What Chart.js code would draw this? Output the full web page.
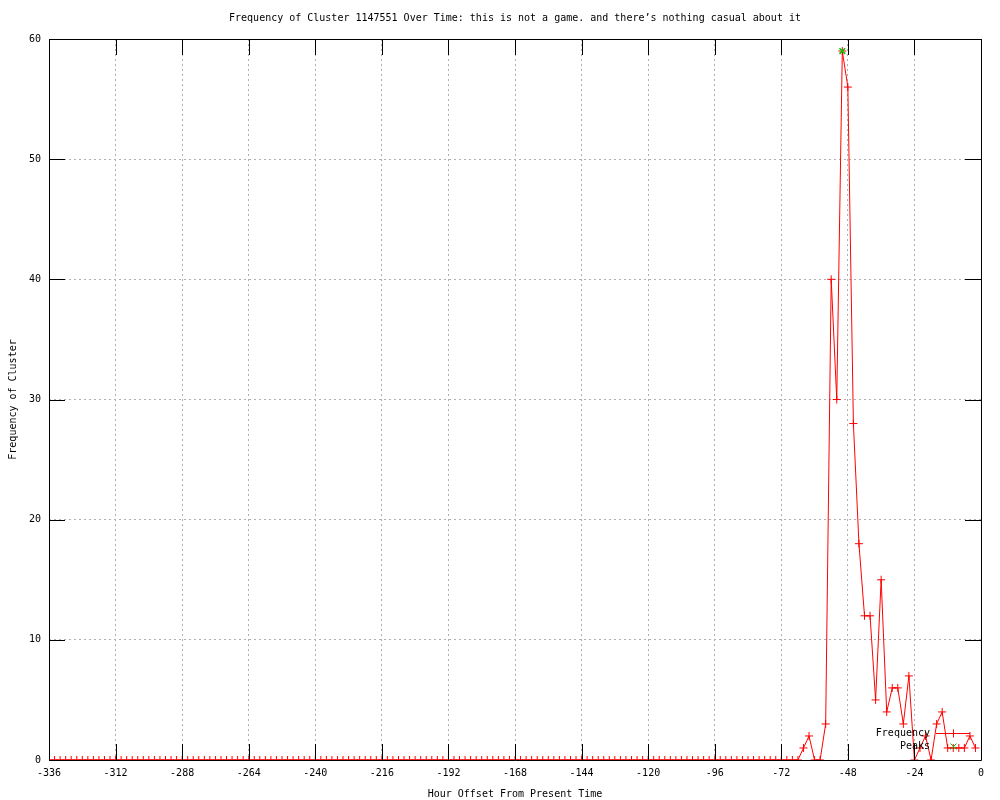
<!DOCTYPE html>
<html>
<head>
<meta charset="utf-8">
<script src="https://cdn.jsdelivr.net/npm/chart.js@4"></script>
<style>
  html, body { margin: 0; padding: 0; background: #fff; }
  #wrap { width: 1000px; height: 800px; }
</style>
</head>
<body>
<div id="wrap"><canvas id="chart"></canvas></div>
<script>
// one sample every 2 hours, from -336 up to -2
const firstHour = -336;
const hourStep = 2;

const frequency = [
  0, 0, 0, 0, 0, 0, 0, 0, 0, 0, 0, 0,
  0, 0, 0, 0, 0, 0, 0, 0, 0, 0, 0, 0,
  0, 0, 0, 0, 0, 0, 0, 0, 0, 0, 0, 0,
  0, 0, 0, 0, 0, 0, 0, 0, 0, 0, 0, 0,
  0, 0, 0, 0, 0, 0, 0, 0, 0, 0, 0, 0,
  0, 0, 0, 0, 0, 0, 0, 0, 0, 0, 0, 0,
  0, 0, 0, 0, 0, 0, 0, 0, 0, 0, 0, 0,
  0, 0, 0, 0, 0, 0, 0, 0, 0, 0, 0, 0,
  0, 0, 0, 0, 0, 0, 0, 0, 0, 0, 0, 0,
  0, 0, 0, 0, 0, 0, 0, 0, 0, 0, 0, 0,
  0, 0, 0, 0, 0, 0, 0, 0, 0, 0, 0, 0,
  0, 0, 0, 0, 1, 2, 0, 0, 3, 40, 30, 59,
  56, 28, 18, 12, 12, 5, 15, 4, 6, 6, 3, 7,
  0, 1, 2, 0, 3, 4, 1, 1, 1, 1, 2, 1
];

const peakHours = [-50];
const peakValues = [59];

const xTicks = { min: -336, max: 0, step: 24 };
const yTicks = { min: 0, max: 60, step: 10 };

const titleText = 'Frequency of Cluster 1147551 Over Time: this is not a game. and there\u2019s nothing casual about it';

const freqPoints = frequency.map((v, i) => ({ x: firstHour + i * hourStep, y: v }));
const peakPoints = peakHours.map((h, i) => ({ x: h, y: peakValues[i] }));

const FONT = { family: 'DejaVu Sans Mono', size: 10 };
const TICK_LEN = 16;
const RED = '#ff0000';
const GREEN = '#00c000';

// gnuplot style frame, inward ticks on all four sides, title and key
const frameTicks = {
  id: 'frameTicks',
  afterDraw(chart) {
    const { ctx, chartArea: a, scales: { x, y } } = chart;
    ctx.save();
    ctx.strokeStyle = '#000';
    ctx.lineWidth = 1;
    ctx.setLineDash([]);
    ctx.beginPath();
    x.ticks.forEach(t => {
      const px = Math.round(x.getPixelForValue(t.value)) + 0.5;
      ctx.moveTo(px, a.bottom); ctx.lineTo(px, a.bottom - TICK_LEN);
      ctx.moveTo(px, a.top); ctx.lineTo(px, a.top + TICK_LEN);
    });
    y.ticks.forEach(t => {
      const py = Math.round(y.getPixelForValue(t.value)) + 0.5;
      ctx.moveTo(a.left, py); ctx.lineTo(a.left + TICK_LEN, py);
      ctx.moveTo(a.right, py); ctx.lineTo(a.right - TICK_LEN, py);
    });
    ctx.rect(Math.round(a.left) + 0.5, Math.round(a.top) + 0.5,
             Math.round(a.right - a.left), Math.round(a.bottom - a.top));
    ctx.stroke();

    ctx.font = FONT.size + 'px ' + FONT.family;
    ctx.fillStyle = '#000';

    // title, centred over the plot area
    ctx.textAlign = 'center';
    ctx.textBaseline = 'middle';
    ctx.fillText(titleText, (a.left + a.right) / 2, 18);

    // key
    ctx.textAlign = 'right';
    const ky1 = Math.round(a.bottom - 27) + 0.5, ky2 = Math.round(a.bottom - 14) + 0.5;
    const tx = a.right - 51, l0 = a.right - 45, l1 = a.right - 11;
    const mx = Math.round((l0 + l1) / 2) + 0.5;
    ctx.fillText('Frequency', tx, ky1);
    ctx.fillText('Peaks', tx, ky2);

    ctx.strokeStyle = RED;
    ctx.beginPath();
    ctx.moveTo(l0, ky1); ctx.lineTo(l1, ky1);
    ctx.moveTo(mx, ky1 - 4); ctx.lineTo(mx, ky1 + 4);
    ctx.stroke();

    ctx.strokeStyle = GREEN;
    ctx.beginPath();
    ctx.moveTo(mx - 3, ky2 - 3); ctx.lineTo(mx + 3, ky2 + 3);
    ctx.moveTo(mx - 3, ky2 + 3); ctx.lineTo(mx + 3, ky2 - 3);
    ctx.stroke();
    ctx.restore();
  }
};

new Chart(document.getElementById('chart'), {
  type: 'line',
  data: {
    datasets: [
      {
        label: 'Peaks',
        data: peakPoints,
        showLine: false,
        pointStyle: 'crossRot',
        pointRadius: 4,
        borderColor: GREEN,
        pointBorderColor: GREEN,
        pointBorderWidth: 1.5,
        order: 0
      },
      {
        label: 'Frequency',
        data: freqPoints,
        borderColor: RED,
        borderWidth: 1,
        pointStyle: 'cross',
        pointRadius: 4,
        pointBorderColor: RED,
        pointBorderWidth: 1,
        tension: 0,
        fill: false,
        order: 1
      }
    ]
  },
  options: {
    responsive: true,
    maintainAspectRatio: false,
    animation: false,
    layout: { padding: { left: 0, right: 19, top: 39, bottom: 0 } },
    plugins: {
      legend: { display: false },
      tooltip: { enabled: false },
      title: { display: false }
    },
    scales: {
      x: {
        type: 'linear',
        min: xTicks.min,
        max: xTicks.max,
        afterFit: s => { s.height = 40; },
        ticks: {
          stepSize: xTicks.step,
          autoSkip: false,
          maxRotation: 0,
          padding: 7,
          color: '#000',
          font: FONT
        },
        grid: { color: '#b0b0b0', lineWidth: 1, drawTicks: false },
        border: { display: false, dash: [2, 3] },
        title: {
          display: true,
          text: 'Hour Offset From Present Time',
          color: '#000',
          font: FONT,
          padding: { top: 0, bottom: 0 }
        }
      },
      y: {
        min: yTicks.min,
        max: yTicks.max,
        afterFit: s => { s.width = 49; },
        ticks: {
          stepSize: yTicks.step,
          padding: 8,
          color: '#000',
          font: FONT
        },
        grid: { color: '#b0b0b0', lineWidth: 1, drawTicks: false },
        border: { display: false, dash: [2, 3] },
        title: {
          display: true,
          text: 'Frequency of Cluster',
          color: '#000',
          font: FONT,
          padding: { top: 7, bottom: 0 }
        }
      }
    }
  },
  plugins: [frameTicks]
});
</script>
</body>
</html>
